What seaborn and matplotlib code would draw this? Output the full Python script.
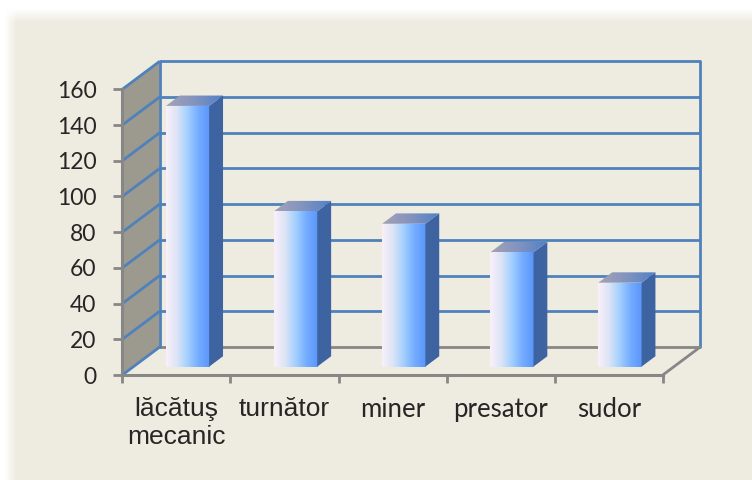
import numpy as np
import matplotlib
matplotlib.use("Agg")
import matplotlib.pyplot as plt
from matplotlib.patches import Polygon
from matplotlib.colors import LinearSegmentedColormap, to_rgb
import seaborn as sns

# values
jobs = ["lăcătuş\nmecanic", "turnător", "miner", "presator", "sudor"]
counts = [146, 87, 80, 64, 47]
y_ticks = [0, 20, 40, 60, 80, 100, 120, 140, 160]
label_fonts = ["Liberation Sans", "Liberation Sans", "Lato", "Lato", "Lato"]
label_sizes = [19, 19, 18.5, 18.5, 18.5]

# colours
beige = "#EEEBE0"
wall_grey = "#9C998F"
grid_blue = "#4F81BD"
axis_grey = "#878787"
side_blue = "#3D63A1"
front_cmap = LinearSegmentedColormap.from_list(
    "front", ["#FAF0FA", "#DCE4F6", "#A2CFFF", "#72ABFF", "#5A96FA"])
top_cmap = LinearSegmentedColormap.from_list(
    "top", ["#A6A3B6", "#8293BF", "#5080C8"])

sns.set_style("white")
plt.rcParams["font.family"] = ["Lato", "DejaVu Sans"]

fig = plt.figure(figsize=(7.52, 4.8), dpi=100)

# beige chart area with a soft white glow on the top and left edges
H, W = 480, 752
rows = np.arange(H)[:, None]
cols = np.arange(W)[None, :]
blend = np.clip((rows - 8) / 14, 0, 1) * np.clip((cols - 4) / 12, 0, 1)
bg = 1 - blend[..., None] * (1 - np.array(to_rgb(beige)))
fig.figimage(bg, xo=0, yo=0, origin="upper", zorder=-5)

ax = fig.add_axes([122.3 / W, 105 / H, 540.5 / W, 285.7 / H])
ax.set_zorder(2)
ax.patch.set_visible(False)

n = len(jobs)
ymax = y_ticks[-1]
# depth of the 3d box in data units
dx = 37.4 / (540.5 / n)
dy = 28 / (285.7 / ymax)
f0, f1 = 0.3, 0.67
x_l, x_r = -0.5, n - 0.5

# bars (front faces) from seaborn
sns.barplot(x=jobs, y=counts, width=0.4, color="#8EC0FF", saturation=1,
            ax=ax, zorder=4)

# left wall
ax.add_patch(Polygon([(x_l, 0), (x_l, ymax), (x_l + dx, ymax + dy), (x_l + dx, dy)],
                     closed=True, facecolor=wall_grey, edgecolor="none",
                     zorder=1, clip_on=False))

# grid lines on left wall and back wall
for y in y_ticks:
    ax.plot([x_l, x_l + dx], [y, y + dy], color=grid_blue, lw=2,
            zorder=2, clip_on=False, solid_capstyle="butt")
    ax.plot([x_l + dx, x_r + dx], [y + dy, y + dy],
            color=axis_grey if y == 0 else grid_blue, lw=2,
            zorder=2, clip_on=False, solid_capstyle="butt")
for xe in [x_l + dx, x_r + dx]:
    ax.plot([xe, xe], [dy, ymax + dy], color=grid_blue, lw=2, zorder=2,
            clip_on=False)
# right edge of the floor
ax.plot([x_r, x_r + dx], [0, dy], color=axis_grey, lw=2, zorder=2,
        clip_on=False)

# turn the flat bars into 3d columns
ddx = (f1 - f0) * dx
ddy = (f1 - f0) * dy
grad = np.linspace(0, 1, 256)[None, :]
for p in list(ax.patches)[:n]:
    x0 = p.get_x() + f0 * dx
    y0 = f0 * dy
    w = p.get_width()
    h = p.get_height()
    p.set_x(x0)
    p.set_y(y0)
    p.set_facecolor("none")
    p.set_edgecolor("none")
    p.set_clip_on(False)
    im = ax.imshow(grad, cmap=front_cmap, extent=[x0, x0 + w, y0, y0 + h],
                   aspect="auto", zorder=4, interpolation="bicubic")
    im.set_clip_path(p)

    side = Polygon([(x0 + w, y0), (x0 + w, y0 + h),
                    (x0 + w + ddx, y0 + h + ddy), (x0 + w + ddx, y0 + ddy)],
                   closed=True, facecolor=side_blue, edgecolor="none",
                   zorder=4, clip_on=False)
    ax.add_patch(side)

    top = Polygon([(x0, y0 + h), (x0 + w, y0 + h),
                   (x0 + w + ddx, y0 + h + ddy), (x0 + ddx, y0 + h + ddy)],
                  closed=True, facecolor="none", edgecolor="none",
                  zorder=4, clip_on=False)
    ax.add_patch(top)
    im2 = ax.imshow(grad, cmap=top_cmap,
                    extent=[x0, x0 + w + ddx, y0 + h, y0 + h + ddy],
                    aspect="auto", zorder=4, interpolation="bicubic")
    im2.set_clip_path(top)

# axes, ticks and labels
for s in ["top", "right"]:
    ax.spines[s].set_visible(False)
for s in ["left", "bottom"]:
    ax.spines[s].set_color(axis_grey)
    ax.spines[s].set_linewidth(2.2)
    ax.spines[s].set_zorder(3)

ax.set_yticks(y_ticks)
ax.tick_params(axis="y", left=True, length=6.5, width=2, color=axis_grey,
               pad=12, labelsize=16.5)
ax.set_xticks(range(n))
ax.set_xticklabels(jobs)
ax.set_xticks(np.arange(-0.5, n), minor=True)
ax.tick_params(axis="x", which="major", bottom=True, length=0, pad=16)
ax.tick_params(axis="x", which="minor", bottom=True, length=6, width=2,
               color=axis_grey)
for lbl, fam, size in zip(ax.get_xticklabels(), label_fonts, label_sizes):
    lbl.set_fontfamily(fam)
    lbl.set_fontsize(size)
    lbl.set_linespacing(1.2)
ax.set_xlabel("")
ax.set_ylabel("")
ax.set_xlim(x_l, x_r)
ax.set_ylim(0, ymax)

fig.savefig("out.png", dpi=100)
